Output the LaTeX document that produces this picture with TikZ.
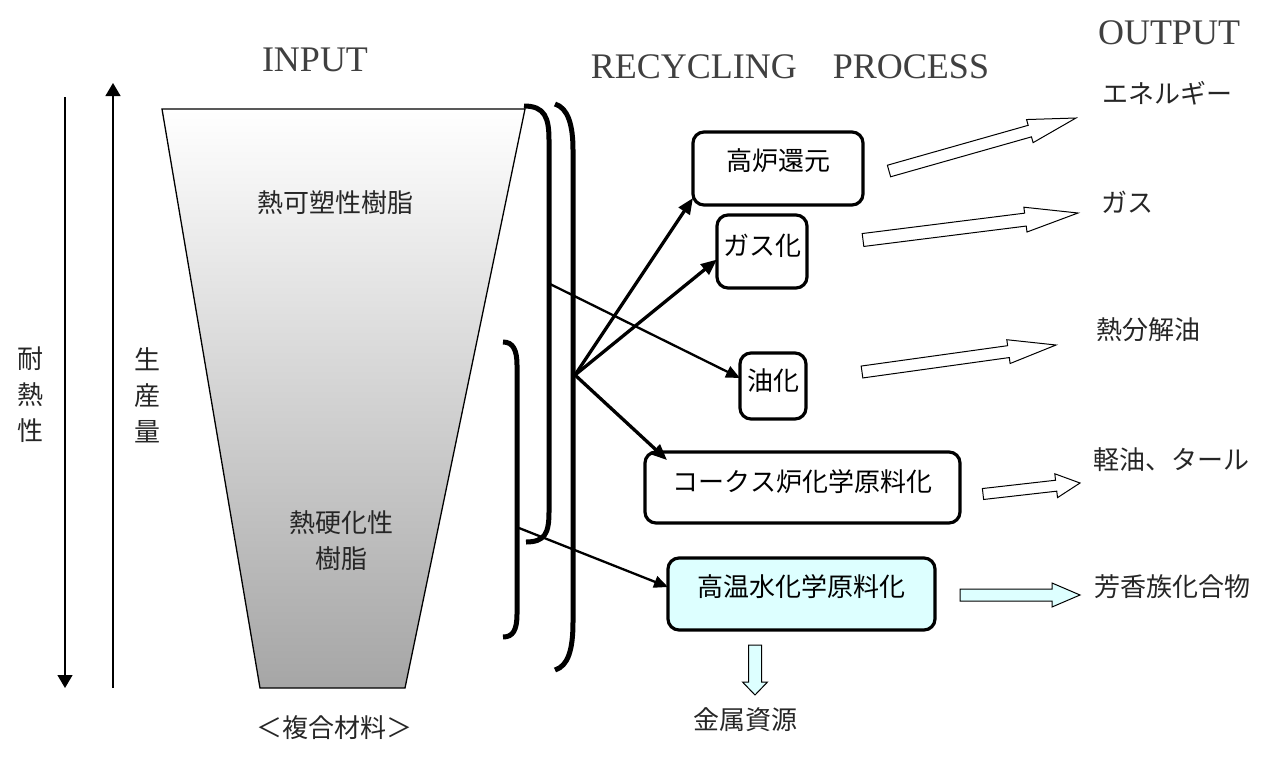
\documentclass[tikz,border=0pt]{standalone}
\usepackage{fontspec}
\setmainfont{Liberation Serif}
\newfontfamily\jp{Noto Sans CJK JP}
\usetikzlibrary{calc,arrows.meta}
\definecolor{lcyan}{HTML}{DDFFFF}
\newcommand{\blockarr}[6]{%
  \coordinate (ba-h) at ($(#3)!#6!(#2)$);
  \draw[line width=1pt, fill=#1, line join=miter]
    ($(#2)!#4!90:(#3)$) -- ($(ba-h)!#4!90:(#3)$) -- ($(ba-h)!#5!90:(#3)$) -- (#3)
    -- ($(ba-h)!#5!-90:(#3)$) -- ($(ba-h)!#4!-90:(#3)$) -- ($(#2)!#4!-90:(#3)$) -- cycle;
}
\begin{document}
\begin{tikzpicture}[x=1pt,y=-1pt,
  jpf/.style={font=\jp\fontsize{26pt}{36pt}\selectfont},
  box/.style={draw, line width=3.2pt, rounded corners=11pt, inner sep=0pt, outer sep=0pt, jpf, text height=23pt, text depth=15pt},
  lbl/.style={jpf, inner sep=0pt, text=black!85},
  hdr/.style={font=\fontsize{36pt}{36pt}\selectfont, text=black!75, inner sep=0pt},
  thinarr/.style={line width=2.3pt, -{Triangle[length=14pt,width=12pt]}},
  thickarr/.style={line width=3.3pt, -{Triangle[length=16pt,width=13pt]}},
  brk/.style={line width=5pt},
  axisarr/.style={line width=1.3pt, -{Triangle[length=13pt,width=15pt]}}]
\useasboundingbox (0,0) rectangle (1266,758);

% headers
\node[hdr] (hin) at (315,60) {INPUT};
\node[hdr] (hrp) at (790,67) {RECYCLING\hspace{36pt}PROCESS};
\node[hdr] (hout) at (1169,33) {OUTPUT};

% left axes
\coordinate (hrtop) at (65,97);
\coordinate (hrbot) at (65,688);
\coordinate (prbot) at (113,688);
\coordinate (prtop) at (113,83);
\draw[axisarr] (hrtop) -- (hrbot);
\draw[axisarr] (prbot) -- (prtop);
\node[lbl, align=center] (tainetsu) at (30,395) {耐\\熱\\性};
\node[lbl, align=center] (seisan) at (147,395) {生\\産\\量};

% funnel
\shadedraw[top color=white, bottom color=gray!70, draw=black, line width=1.3pt]
  (162,109) -- (525,109) -- (405,688) -- (260,688) -- cycle;
\node[lbl] (thermo) at (335,203) {熱可塑性樹脂};
\node[lbl, align=center] (thermoset) at (341,541) {熱硬化性\\樹脂};
\node[lbl] (fukugo) at (334,728) {＜複合材料＞};

% brackets
\draw[brk] (524,106) .. controls (545,106) and (549,118) .. (549,140) -- (549,512)
  .. controls (549,533) and (545,542) .. (526,542);
\draw[brk] (555,104) .. controls (568,108) and (573,125) .. (573,150) -- (573,622)
  .. controls (573,650) and (568,666) .. (555,670);
\draw[brk] (503,342) .. controls (513,342) and (517,350) .. (517,365) -- (517,614)
  .. controls (517,630) and (513,637) .. (503,637);
\coordinate (b1p) at (550,284);
\coordinate (b2p) at (575,375);
\coordinate (b3p) at (519,528);

% process boxes
\node[box, minimum width=170pt, minimum height=73pt, text depth=19pt] (kouro) at (778,168.5) {高炉還元};
\node[box, minimum width=90pt, minimum height=73pt] (gasu) at (762,251.5) {ガス化};
\node[box, minimum width=66pt, minimum height=66pt] (yuka) at (773,386) {油化};
\node[box, minimum width=315pt, minimum height=71pt] (coke) at (802.5,487.5) {コークス炉化学原料化};
\node[box, fill=lcyan, minimum width=267pt, minimum height=72pt, text depth=19pt] (hot) at (801.5,594) {高温水化学原料化};

% connectors
\draw[thinarr] (b1p) -- ([yshift=8pt]yuka.west);
\draw[thickarr] (b2p) -- ([yshift=7pt]kouro.south west);
\draw[thickarr] (b2p) -- ([yshift=-8pt]gasu.west);
\draw[thickarr] (b2p) -- ([xshift=22pt,yshift=-8pt]coke.north west);
\draw[thinarr] (b3p) -- ([yshift=7pt]hot.west);

% outputs
\node[lbl] (o1) at (1167,93) {エネルギー};
\node[lbl] (o2) at (1127,202) {ガス};
\node[lbl] (o3) at (1148,330) {熱分解油};
\node[lbl] (o4) at (1171,460) {軽油、タール};
\node[lbl] (o5) at (1172,587) {芳香族化合物};
\node[lbl] (o6) at (745,720) {金属資源};

% block arrows
\coordinate (a1s) at (889,171); \coordinate (a1e) at (1076,118);
\coordinate (a2s) at (863,240); \coordinate (a2e) at (1078,213);
\coordinate (a3s) at (862,372); \coordinate (a3e) at (1056,345);
\coordinate (a4s) at (983,494); \coordinate (a4e) at (1080,483);
\coordinate (a5s) at (960,595); \coordinate (a5e) at (1080,595);
\coordinate (a6s) at (755,645); \coordinate (a6e) at (755,695);
\blockarr{white}{a1s}{a1e}{6pt}{12pt}{48pt}
\blockarr{white}{a2s}{a2e}{6.5pt}{12.5pt}{53pt}
\blockarr{white}{a3s}{a3e}{6pt}{12pt}{48pt}
\blockarr{white}{a4s}{a4e}{5.5pt}{12pt}{24pt}
\blockarr{lcyan}{a5s}{a5e}{6pt}{12pt}{28pt}
\blockarr{lcyan}{a6s}{a6e}{6.5pt}{12.5pt}{13pt}
\end{tikzpicture}
\end{document}
